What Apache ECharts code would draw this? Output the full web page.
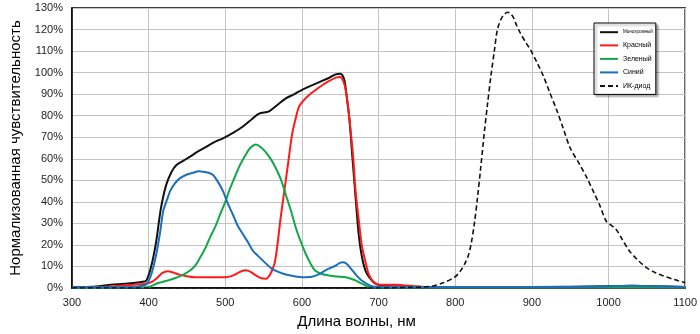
<!DOCTYPE html>
<html><head><meta charset="utf-8">
<script src="https://cdn.jsdelivr.net/npm/echarts@6/dist/echarts.min.js"></script>
<style>html,body{margin:0;padding:0;background:#fff}#c{width:700px;height:334px}</style>
</head><body><div id="c"></div>
<script>
var seriesNames = ['Монохромный','Красный','Зеленый','Синий','ИК-диод'];
var xTicks = [300,400,500,600,700,800,900,1000,1100];
var yTicksPct = [0,10,20,30,40,50,60,70,80,90,100,110,120,130];

var monoNm = [300,320,340,350,360,370,380,390,397,404,410,416,423,430,436,445,454,465,475,487,497,510,523,535,544,557,568,579,590,600,612,622,635,644,650,655,658,662,666,670,674,678,683,690,696,705,720,750,800,900,1000,1030,1060,1100];
var monoVal = [0.5,0.5,1,1.5,1.8,2,2.3,2.8,3.5,11,22,37,48,54,57,59,61,63.5,65.5,68,69.5,72,75,78.5,81,82,85,88,90,92,94,95.5,97.5,99.2,99.5,97,90,78,60,42,25,15,8,4,2,1,0.8,0.5,0.5,0.5,0.8,1,0.8,0.5];

var redNm = [300,340,360,380,395,405,412,418,425,432,440,450,461,475,490,500,508,514,521,527,533,540,547,553,558,564,568,572,577,582,587,592,596,602,609,618,626,635,644,650,654,657,660,663,667,670,674,678,683,687,693,700,710,725,740,760,800,1100];
var redVal = [0.2,0.5,1,1.5,2,3,5,7,7.8,7.2,6.2,5.5,5,5,5,5,5.5,6.5,7.8,8.2,7.5,5.8,4.5,4.3,6,11,20,32,45,58,71,79,84,87,89.5,92,94,96,97.7,98,96,92,85,75,60,45,32,20,12,6.6,3,1.5,1.5,1.5,1,0.5,0.3,0.3];

var greenNm = [300,380,400,410,420,432,444,454,461,467,474,480,487,493,500,506,513,519,526,532,540,546,553,560,566,573,579,586,592,599,605,611,617,626,635,645,657,665,670,678,687,700,1100];
var greenVal = [0,0.3,0.5,2,3,4.3,6,8.1,10.5,14,18.5,23.4,28.5,34,40,46,52,57,61.5,64.8,66.6,65.5,63,59.5,55.6,50,43.3,35.5,28,21,15.8,11.5,8.1,6.5,5.8,5.3,5,4.2,3.5,2,0.5,0.2,0.2];

var blueNm = [300,380,392,398,404,410,415,419,424,428,434,441,450,458,465,471,478,484,490,497,503,510,516,523,530,536,543,549,555,561,570,579,590,600,613,622,630,637,644,650,654,659,666,672,678,685,691,700,800,950,1000,1030,1060,1100];
var blueVal = [0.3,0.5,1,2,7,15.8,26,35.7,41,45,48.5,51,52.7,53.5,54.2,54,53.5,52.5,49.5,45,39.5,34,29,25,21,17.3,14.8,12.7,10.7,8.9,7.4,6.3,5.5,5,5.2,6.3,8.1,9.3,10.4,11.8,12,11,8.1,5.5,3.5,1.8,0.8,0.5,0.5,0.5,0.8,1,0.8,0.5];

var irNm = [300,700,740,769,785,799,806,812,817,820.5,825,829,833,838,842,846.5,851,855,860,864,868,872,876,880,885,892,898,907,915,923,932,941,950,963,972,980,989,997,1004,1010,1018,1027,1038,1049,1060,1070,1085,1098,1100];
var irVal = [0,0,0.3,0.8,2.5,5,7.5,11,15,20,30,41.8,55,72.4,85,98.4,110,120,125,127,128,127.5,125.5,122,118.3,114,110.7,104.5,98.4,91,83,74,65,57,51,45,38,31,29,27.2,22.5,17.3,13,9.6,7.3,5.8,4,2.7,2.5];

function pairs(xs, ys){ return xs.map(function(x,i){ return [x, ys[i]]; }); }

var chart = echarts.init(document.getElementById('c'), null, {renderer:'canvas'});
var FONT = 'Liberation Sans, Arial, sans-serif';
function line(name, xs, ys, color, width, type){
  return {
    name: name, type: 'line', data: pairs(xs, ys), smooth: 0.3, symbol: 'none',
    lineStyle: {color: color, width: width, type: type || 'solid'},
    itemStyle: {color: color}, animation: false, z: 3
  };
}
chart.setOption({
  animation: false,
  backgroundColor: '#fff',
  grid: {left: 68, right: 14, top: 8, bottom: 43, show: true, borderColor: '#000', borderWidth: 1.5, containLabel: false},
  legend: {
    orient: 'vertical', left: 594, top: 23, width: 57,
    padding: [6, 3, 5, 5], itemGap: 6.5, itemWidth: 18, itemHeight: 8,
    backgroundColor: '#fff', borderColor: '#000', borderWidth: 1,
    shadowColor: 'rgba(0,0,0,0.35)', shadowBlur: 2, shadowOffsetX: 2, shadowOffsetY: 2,
    itemStyle: {opacity: 0},
    textStyle: {fontSize: 7, color: '#000', fontFamily: FONT, padding: [0,0,0,0]},
    data: [
      {name: seriesNames[0], textStyle: {fontSize: 4.5}},
      {name: seriesNames[1]},
      {name: seriesNames[2]},
      {name: seriesNames[3]},
      {name: seriesNames[4]}
    ]
  },
  xAxis: {
    type: 'value', min: xTicks[0], max: xTicks[xTicks.length-1], interval: 100,
    name: 'Длина волны, нм', nameLocation: 'middle', nameGap: 26,
    nameTextStyle: {fontSize: 15, color: '#000', fontFamily: FONT, padding: [0, 44, 0, 0]},
    axisLine: {show: true, lineStyle: {color: '#000', width: 1.5}},
    axisTick: {show: false},
    axisLabel: {fontSize: 11, color: '#222', fontFamily: FONT, margin: 9, formatter: function(v){ return String(v); }},
    splitLine: {show: true, lineStyle: {color: '#c4c4c4', width: 1}}
  },
  yAxis: {
    type: 'value', min: yTicksPct[0], max: yTicksPct[yTicksPct.length-1], interval: 10,
    name: 'Нормализованная чувствительность', nameLocation: 'middle', nameGap: 49,
    nameTextStyle: {fontSize: 15, color: '#000', fontFamily: FONT},
    axisLine: {show: true, lineStyle: {color: '#000', width: 1.5}},
    axisTick: {show: false},
    axisLabel: {fontSize: 11, color: '#222', fontFamily: FONT, margin: 9, formatter: '{value}%'},
    splitLine: {show: true, lineStyle: {color: '#c4c4c4', width: 1}}
  },
  series: [
    line(seriesNames[0], monoNm, monoVal, '#111111', 2),
    line(seriesNames[1], redNm, redVal, '#ff1a1a', 2),
    line(seriesNames[2], greenNm, greenVal, '#12a84a', 2),
    line(seriesNames[3], blueNm, blueVal, '#1a6fc0', 2),
    line(seriesNames[4], irNm, irVal, '#111111', 1.6, [5, 3])
  ]
});
</script></body></html>
